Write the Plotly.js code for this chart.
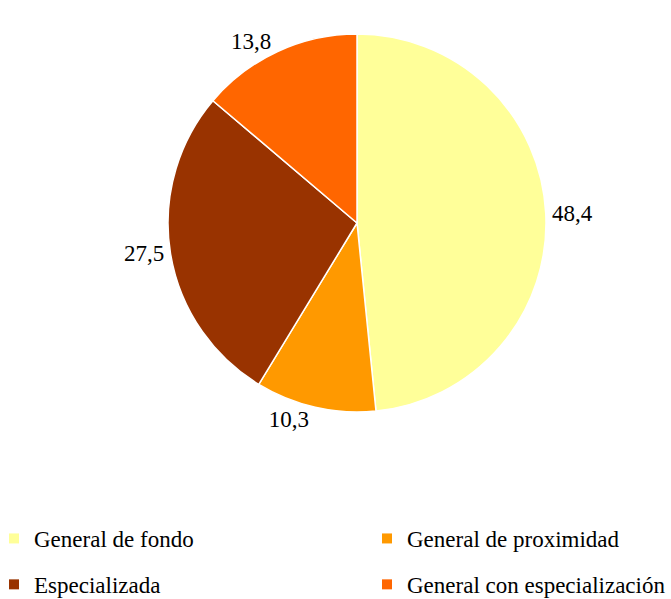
<!DOCTYPE html>
<html>
<head>
<meta charset="utf-8">
<script src="https://cdn.plot.ly/plotly-3.0.1.min.js"></script>
<style>html,body{margin:0;padding:0;background:#fff;}#chart{width:671px;height:599px;}</style>
</head>
<body>
<div id="chart"></div>
<script>
const categories = ["General de fondo", "General de proximidad", "Especializada", "General con especialización"];
const values = [48.4, 10.3, 27.5, 13.8];
const colors = ["#FFFF99", "#FF9900", "#993300", "#FF6600"];
// legend column for each category (reference shows a 2-column legend)
const legendColumn = ["legend", "legend2", "legend", "legend2"];
const FONT = "Liberation Serif";

const pie = {
  type: "pie",
  labels: categories,
  values: values,
  sort: false,
  direction: "clockwise",
  rotation: 0,
  marker: {colors: colors, line: {color: "#ffffff", width: 1.5}},
  texttemplate: "%{value:.1f}",
  textposition: "outside",
  textfont: {family: FONT, size: 23, color: "#000"},
  hoverinfo: "label+value",
  showlegend: false,
  domain: {x: [0.2504, 0.8137], y: [0.2031, 0.9342]}
};

// legend entries (one per category), split over two legend columns
const legendEntries = categories.map((name, i) => ({
  type: "scatter",
  mode: "markers",
  x: [null], y: [null],
  name: name,
  legendgroup: "g" + i,
  legend: legendColumn[i],
  marker: {symbol: "square", size: 10, color: colors[i]},
  hoverinfo: "skip"
}));

const legendCommon = {
  orientation: "v",
  traceorder: "grouped",
  tracegroupgap: 13,
  indentation: -6,
  bgcolor: "rgba(0,0,0,0)",
  font: {family: FONT, size: 23, color: "#000"},
  xref: "paper",
  yref: "container",
  yanchor: "top",
  y: 0.1369,
  xanchor: "left"
};

const layout = {
  width: 671, height: 599,
  margin: {l: 0, r: 0, t: 0, b: 0},
  separators: ",.",
  paper_bgcolor: "#fff",
  plot_bgcolor: "#fff",
  font: {family: FONT, color: "#000"},
  xaxis: {visible: false, fixedrange: true},
  yaxis: {visible: false, fixedrange: true},
  showlegend: true,
  legend: Object.assign({}, legendCommon, {x: 0}),
  legend2: Object.assign({}, legendCommon, {x: 0.569})
};

Plotly.newPlot("chart", [pie].concat(legendEntries), layout, {displayModeBar: false, staticPlot: true});
</script>
</body>
</html>
